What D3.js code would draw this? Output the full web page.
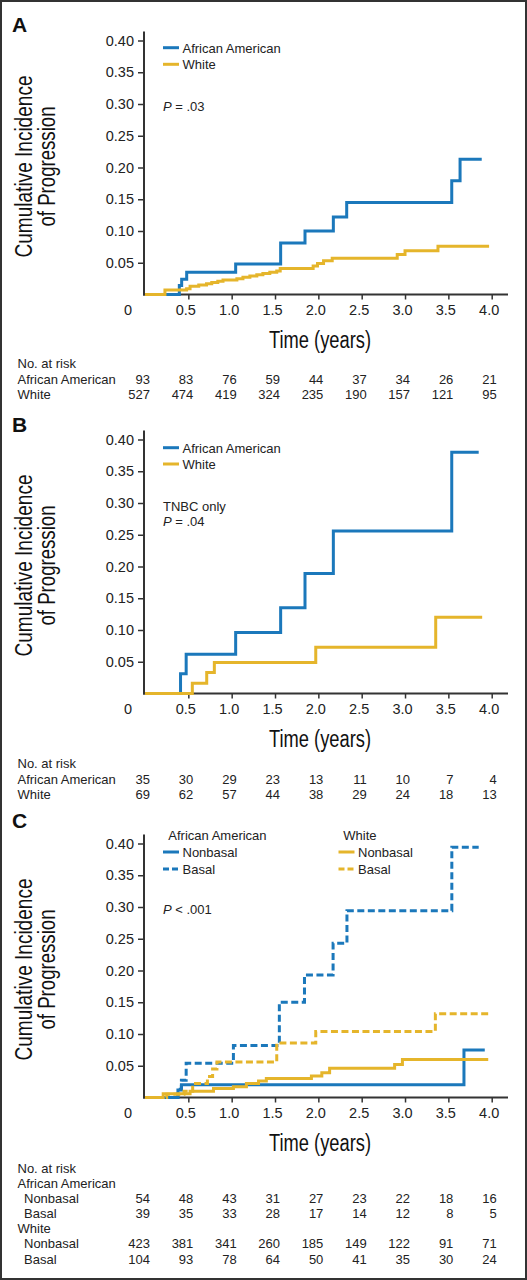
<!DOCTYPE html>
<html><head><meta charset="utf-8">
<script src="https://cdn.jsdelivr.net/npm/d3@7"></script>
<style>body{margin:0;background:#fff;} svg{display:block;}</style>
</head><body><svg id="c" width="527" height="1280"></svg>
<script>
// ---------- shared axis data ----------
const timeTicks = [0, 0.5, 1, 1.5, 2, 2.5, 3, 3.5, 4];
const timeTickLabels = ["0", "0.5", "1.0", "1.5", "2.0", "2.5", "3.0", "3.5", "4.0"];
const yTicks = [0.05, 0.10, 0.15, 0.20, 0.25, 0.30, 0.35, 0.40];

// ---------- Panel A ----------
const aAATime = [0, 0.396, 0.423, 0.481, 1.046, 1.565, 1.846, 2.173, 2.327, 3.539, 3.635, 3.885];
const aAACum  = [0, 0.014, 0.024, 0.035, 0.048, 0.081, 0.100, 0.122, 0.145, 0.179, 0.213, 0.213];
const aWhiteTime = [0, 0.23, 0.48, 0.52, 0.62, 0.71, 0.77, 0.84, 0.90, 1.06, 1.13, 1.21, 1.29, 1.36, 1.44, 1.52, 1.56, 1.94, 1.99, 2.06, 2.16, 2.91, 3.00, 3.38, 3.97];
const aWhiteCum  = [0, 0.007, 0.009, 0.013, 0.015, 0.017, 0.019, 0.021, 0.023, 0.025, 0.027, 0.029, 0.031, 0.033, 0.035, 0.037, 0.041, 0.045, 0.049, 0.053, 0.057, 0.063, 0.069, 0.076, 0.076];
const aRiskAA    = [93, 83, 76, 59, 44, 37, 34, 26, 21];
const aRiskWhite = [527, 474, 419, 324, 235, 190, 157, 121, 95];

// ---------- Panel B ----------
const bAATime = [0, 0.41, 0.475, 1.046, 1.565, 1.846, 2.173, 3.539, 3.85];
const bAACum  = [0, 0.031, 0.062, 0.096, 0.135, 0.189, 0.256, 0.380, 0.380];
const bWhiteTime = [0, 0.546, 0.712, 0.80, 1.97, 3.354, 3.89];
const bWhiteCum  = [0, 0.016, 0.033, 0.049, 0.073, 0.120, 0.120];
const bRiskAA    = [35, 30, 29, 23, 13, 11, 10, 7, 4];
const bRiskWhite = [69, 62, 57, 44, 38, 29, 24, 18, 13];

// ---------- Panel C ----------
const cAANonbasalTime = [0, 0.38, 0.42, 3.68, 3.92];
const cAANonbasalCum  = [0, 0.012, 0.020, 0.075, 0.075];
const cAABasalTime = [0, 0.38, 0.42, 0.475, 1.02, 1.55, 1.84, 2.17, 2.33, 3.54, 3.85];
const cAABasalCum  = [0, 0.013, 0.027, 0.054, 0.082, 0.150, 0.193, 0.243, 0.294, 0.394, 0.394];
const cWhiteNonbasalTime = [0, 0.21, 0.52, 0.79, 1.02, 1.17, 1.31, 1.40, 1.92, 2.04, 2.13, 2.88, 2.97, 3.96];
const cWhiteNonbasalCum  = [0, 0.006, 0.010, 0.014, 0.017, 0.022, 0.026, 0.030, 0.034, 0.039, 0.046, 0.052, 0.060, 0.060];
const cWhiteBasalTime = [0, 0.25, 0.45, 0.55, 0.72, 0.78, 0.83, 1.52, 1.97, 3.35, 3.96];
const cWhiteBasalCum  = [0, 0.005, 0.010, 0.022, 0.033, 0.045, 0.056, 0.086, 0.104, 0.132, 0.132];
const cRiskAANonbasal    = [54, 48, 43, 31, 27, 23, 22, 18, 16];
const cRiskAABasal       = [39, 35, 33, 28, 17, 14, 12, 8, 5];
const cRiskWhiteNonbasal = [423, 381, 341, 260, 185, 149, 122, 91, 71];
const cRiskWhiteBasal    = [104, 93, 78, 64, 50, 41, 35, 30, 24];

// ---------- styles ----------
const BLUE = "#1b78bb", YELLOW = "#e5b52b", INK = "#222";
const SANS = "'Liberation Sans', Arial, Helvetica, sans-serif";

const svg = d3.select("#c");
svg.append("rect").attr("x", 1).attr("y", 1).attr("width", 525).attr("height", 1278)
  .attr("fill", "#fff").attr("stroke", "#333").attr("stroke-width", 2);

const x = d3.scaleLinear().domain([0, 4]).range([145, 491.7]);
const xAxisEnd = 508;

function zip(t, v) { return t.map((d, i) => [d, v[i]]); }

function narrowText(g, txt, len) {
  return g.append("text").attr("font-family", SANS).attr("font-size", 23).attr("fill", "#111")
    .attr("text-anchor", "middle").attr("textLength", len).attr("lengthAdjust", "spacingAndGlyphs").text(txt);
}

function drawPanel(p) {
  const g = svg.append("g");
  const y = d3.scaleLinear().domain([0, 0.4]).range([p.zeroY, p.zeroY - 254]);

  // panel letter
  g.append("text").attr("x", 12).attr("y", p.letterY).text(p.letter)
    .attr("font-family", SANS).attr("font-weight", "bold").attr("font-size", 21).attr("fill", "#111");

  // y axis
  const yAx = d3.axisLeft(y).tickValues(yTicks).tickFormat(d3.format(".2f")).tickSize(6).tickSizeOuter(0);
  const ya = g.append("g").attr("transform", "translate(144,0)").call(yAx);
  ya.select(".domain").remove();
  ya.selectAll(".tick line").attr("stroke", "#333").attr("stroke-width", 1.5);
  ya.selectAll(".tick text").attr("font-family", SANS).attr("font-size", 14.5).attr("fill", INK).attr("x", -10);
  g.append("line").attr("x1", 144).attr("x2", 144).attr("y1", p.zeroY + 1).attr("y2", p.zeroY - 263)
    .attr("stroke", "#333").attr("stroke-width", 2);

  // x axis
  const xAx = d3.axisBottom(x).tickValues(timeTicks.slice(1)).tickFormat("").tickSize(5).tickSizeOuter(0);
  const xa = g.append("g").attr("transform", `translate(0,${p.zeroY})`).call(xAx);
  xa.select(".domain").remove();
  xa.selectAll(".tick line").attr("stroke", "#333").attr("stroke-width", 1.5);
  g.append("line").attr("x1", 143).attr("x2", xAxisEnd).attr("y1", p.zeroY).attr("y2", p.zeroY)
    .attr("stroke", "#333").attr("stroke-width", 2);
  g.selectAll(".xl").data(timeTicks).enter().append("text")
    .attr("x", (d, i) => i === 0 ? x(d) - 17 : x(d) - 2.5)
    .attr("y", p.zeroY + 20)
    .attr("text-anchor", "middle").attr("font-family", SANS).attr("font-size", 14.5).attr("fill", INK)
    .text((d, i) => timeTickLabels[i]);

  // axis titles (condensed look via textLength)
  narrowText(g, "Time (years)", 102).attr("x", 320).attr("y", p.zeroY + 53.5);
  const cy = p.zeroY - 128;
  narrowText(g, "Cumulative Incidence", 182).attr("transform", `translate(32,${cy}) rotate(-90)`);
  narrowText(g, "of Progression", 120).attr("transform", `translate(54.5,${cy}) rotate(-90)`);

  // curves
  const line = d3.line().x(d => x(d[0])).y(d => y(d[1])).curve(d3.curveStepAfter);
  p.series.forEach(s => {
    g.append("path").datum(zip(s.t, s.v)).attr("d", line).attr("fill", "none")
      .attr("stroke", s.color).attr("stroke-width", 3)
      .attr("stroke-dasharray", s.dash ? "7,3.5" : null);
  });

  // legend
  p.legend.forEach(l => {
    if (l.header) {
      g.append("text").attr("x", l.x).attr("y", l.y + 5).text(l.label)
        .attr("font-family", SANS).attr("font-size", 13).attr("fill", INK);
      return;
    }
    g.append("line").attr("x1", l.x).attr("x2", l.x + 16).attr("y1", l.y).attr("y2", l.y)
      .attr("stroke", l.color).attr("stroke-width", 3).attr("stroke-dasharray", l.dash ? "6,3" : null);
    g.append("text").attr("x", l.x + 19.5).attr("y", l.y + 5).text(l.label)
      .attr("font-family", SANS).attr("font-size", 13).attr("fill", INK);
  });

  // notes (P values etc.)
  p.notes.forEach(n => {
    const t = g.append("text").attr("x", 163).attr("y", n.y + 5)
      .attr("font-family", SANS).attr("font-size", 13).attr("fill", INK);
    if (n.italicP) {
      t.append("tspan").attr("font-style", "italic").text("P");
      t.append("tspan").text(n.text);
    } else t.text(n.text);
  });

  // risk table
  p.risk.forEach(r => {
    g.append("text").attr("x", r.indent ? 24 : 17.5).attr("y", r.y + 4.7).text(r.label)
      .attr("font-family", SANS).attr("font-size", 13).attr("fill", INK);
    if (r.values) {
      g.selectAll(null).data(r.values).enter().append("text")
        .attr("x", (d, i) => x(timeTicks[i]) + 5).attr("y", r.y + 4.7).attr("text-anchor", "end")
        .attr("font-family", SANS).attr("font-size", 13).attr("fill", INK).text(d => d);
    }
  });
}

drawPanel({
  letter: "A", letterY: 31.5, zeroY: 294.5,
  series: [
    { t: aAATime, v: aAACum, color: BLUE },
    { t: aWhiteTime, v: aWhiteCum, color: YELLOW }
  ],
  legend: [
    { x: 163, y: 47.7, color: BLUE, label: "African American" },
    { x: 163, y: 64.3, color: YELLOW, label: "White" }
  ],
  notes: [{ y: 105.7, italicP: true, text: " = .03" }],
  risk: [
    { y: 363, label: "No. at risk" },
    { y: 379, label: "African American", values: aRiskAA },
    { y: 394, label: "White", values: aRiskWhite }
  ]
});

drawPanel({
  letter: "B", letterY: 431.5, zeroY: 693.5,
  series: [
    { t: bAATime, v: bAACum, color: BLUE },
    { t: bWhiteTime, v: bWhiteCum, color: YELLOW }
  ],
  legend: [
    { x: 163, y: 447.7, color: BLUE, label: "African American" },
    { x: 163, y: 464, color: YELLOW, label: "White" }
  ],
  notes: [{ y: 505.7, text: "TNBC only" }, { y: 520.7, italicP: true, text: " = .04" }],
  risk: [
    { y: 763.3, label: "No. at risk" },
    { y: 779.3, label: "African American", values: bRiskAA },
    { y: 794.3, label: "White", values: bRiskWhite }
  ]
});

drawPanel({
  letter: "C", letterY: 828, zeroY: 1097.5,
  series: [
    { t: cAANonbasalTime, v: cAANonbasalCum, color: BLUE },
    { t: cAABasalTime, v: cAABasalCum, color: BLUE, dash: true },
    { t: cWhiteNonbasalTime, v: cWhiteNonbasalCum, color: YELLOW },
    { t: cWhiteBasalTime, v: cWhiteBasalCum, color: YELLOW, dash: true }
  ],
  legend: [
    { x: 168.3, y: 835, header: true, label: "African American" },
    { x: 163, y: 852, color: BLUE, label: "Nonbasal" },
    { x: 163, y: 869, color: BLUE, dash: true, label: "Basal" },
    { x: 343.3, y: 835, header: true, label: "White" },
    { x: 338.5, y: 852, color: YELLOW, label: "Nonbasal" },
    { x: 338.5, y: 869, color: YELLOW, dash: true, label: "Basal" }
  ],
  notes: [{ y: 909.3, italicP: true, text: " < .001" }],
  risk: [
    { y: 1168.3, label: "No. at risk" },
    { y: 1183.3, label: "African American" },
    { y: 1198.3, label: "Nonbasal", indent: true, values: cRiskAANonbasal },
    { y: 1213.3, label: "Basal", indent: true, values: cRiskAABasal },
    { y: 1228.3, label: "White" },
    { y: 1243.3, label: "Nonbasal", indent: true, values: cRiskWhiteNonbasal },
    { y: 1259, label: "Basal", indent: true, values: cRiskWhiteBasal }
  ]
});
</script>
</body></html>
